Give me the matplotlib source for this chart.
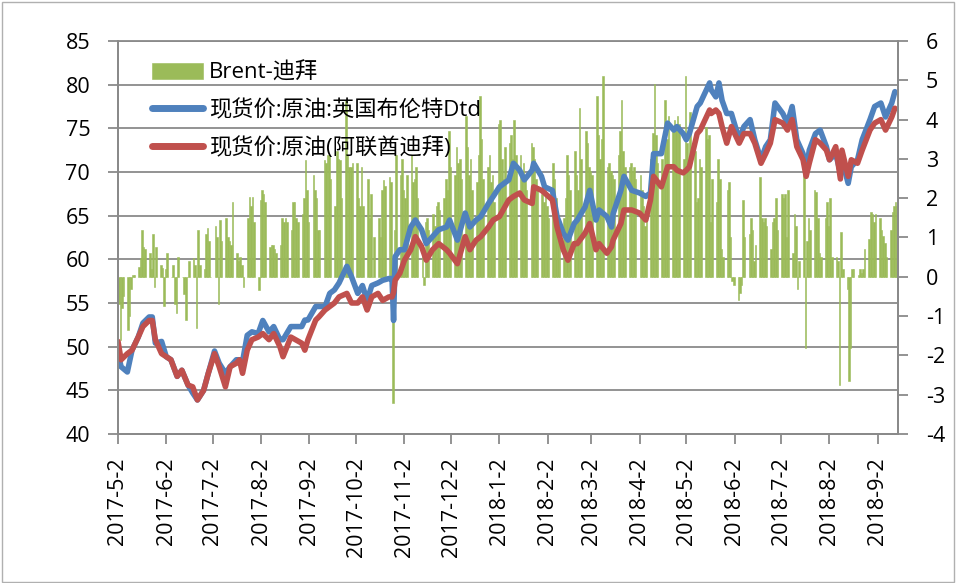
import matplotlib
matplotlib.use("Agg")
import matplotlib.pyplot as plt
import numpy as np
import pandas as pd
from matplotlib.patches import Rectangle

plt.rcParams['font.family'] = ['Open Sans', 'Noto Sans CJK SC', 'DejaVu Sans']
plt.rcParams['axes.unicode_minus'] = False

# Brent - Dubai spread, one value per business day (week rows, first row starts Tue 2017-5-2)
spread = [
    -0.7, -1.6, -0.8, -0.5,
    -1.35, -1.0, -0.3, 0.05, 0.05,
    0.26, 0.47, 1.2, 0.77, 0.7,
    0.6, 0.2, 1.1, -0.25, 0.77,
    0.3, 0.22, -0.75, 0.2, 0.6,
    0.0, 0.3, -0.7, -0.92, 0.5,
    0.0, -0.45, -1.1, 0.0, 0.4,
    0.47, 0.3, -1.3, 1.2, 0.3,
    0.2, 1.1, 1.24, 0.9, 0.0,
    1.3, 1.0, -0.7, 1.45, 0.9,
    1.5, 1.0, 0.9, 0.8, 1.9,
    0.6, 0.4, 0.5, 0.3, -0.25,
    1.5, 2.04, 1.8, 2.04, 1.4,
    -0.33, 1.96, 2.2, 2.1, 1.9,
    0.77, 0.8, 0.8, 0.7, 0.6,
    0.8, 1.5, 1.4, 1.5, 1.4,
    1.2, 1.9, 1.9, 1.5, 1.4,
    1.6, 2.0, 2.97, 2.2, 1.4,
    2.6, 2.2, 2.0, 1.2, 1.2,
    2.97, 2.9, 3.1, 3.1, 2.5,
    1.8, 3.2, 3.0, 2.97, 2.0,
    4.5, 3.1, 2.8, 2.8, 2.9,
    2.9, 2.0, 1.8, 2.8, 1.8,
    2.5, 1.5, 2.1, 0.0, 1.0,
    1.5, 1.0, 2.2, 2.47, 2.3,
    2.55, 2.4, -3.2, 1.2, 3.1,
    2.6, 3.0, 2.2, 2.0, 2.6,
    3.1, 2.4, 2.5, 2.8, 2.0,
    0.8, -0.2, 1.4, 1.5, 1.2,
    1.6, 1.3, 1.8, 1.9, 1.7,
    2.0, 2.5, 2.2, 3.7, 2.8,
    2.6, 3.3, 2.9, 3.0, 2.5,
    4.1, 3.3, 2.6, 3.0, 2.2,
    2.4, 3.1, 4.6, 3.5, 2.5,
    2.8, 3.1, 2.4, 2.6, 1.9,
    3.9, 4.0, 3.0, 2.5, 3.3,
    3.4, 3.6, 3.0, 4.0, 3.1,
    3.1, 2.6, 2.9, 2.5, 2.2,
    3.4, 3.3, 3.0, 2.5, 2.3,
    2.1, 1.9, 2.2, 1.8, 1.5,
    2.9, 2.5, 2.0, 1.5, 1.3,
    1.5, 2.0, 3.1, 2.6, 2.2,
    3.2, 2.6, 2.2, 4.3, 3.0,
    3.7, 3.4, 2.8, 2.7, 2.6,
    4.6, 3.6, 3.0, 3.5, 5.1,
    2.8, 2.9, 2.7, 2.6, 2.5,
    3.1, 3.7, 4.5, 3.2, 2.8,
    2.8, 2.9, 2.7, 2.8, 2.5,
    2.6, 2.2, 1.8, 1.3, 1.6,
    3.0, 3.65, 4.9, 3.6, 2.9,
    3.0, 2.5, 4.5, 3.5, 4.1,
    3.8, 4.0, 3.9, 4.1, 3.9,
    3.0, 5.1, 3.4, 2.8, 4.2,
    3.2, 1.9, 2.0, 3.0, 2.8,
    3.8, 3.5, 3.6, 1.4, 2.5,
    1.9, 3.0, 2.5, 0.7, 0.5,
    2.2, 2.4, 1.0, -0.1, -0.2,
    -0.6, -0.4, -0.2, 1.96, 1.0,
    1.1, 1.5, 1.2, 0.4, 0.8,
    2.55, 1.5, 1.4, 1.5, 1.3,
    0.7, 1.4, 1.5, 2.0, 1.2,
    2.1, 2.0, 2.1, 1.0, 2.2,
    0.6, 1.6, 1.3, -0.3, 0.4,
    2.7, -1.8, 0.9, 1.5, 1.2,
    2.2, 2.15, 1.5, 0.6, 0.5,
    1.5, 1.9, 1.3, 2.0, 0.5,
    0.5, 0.4, -2.75, 1.15, 0.2,
    -0.3, -2.65, -1.8, 0.2, 0.2,
    0.05, 0.2, 0.1, 0.2, 0.7,
    0.95, 1.65, 1.6, 1.4, 1.6,
    1.5, 1.2, 1.05, 0.85, 0.5,
    1.2, 1.65, 1.8, 1.9, 1.8,
]

# spot prices
price_dates = [
    '2017-05-02', '2017-05-04', '2017-05-08', '2017-05-11', '2017-05-15', '2017-05-18',
    '2017-05-22', '2017-05-24', '2017-05-26', '2017-05-30', '2017-06-02', '2017-06-05',
    '2017-06-09', '2017-06-12', '2017-06-16', '2017-06-19', '2017-06-22', '2017-06-26',
    '2017-06-29', '2017-07-03', '2017-07-06', '2017-07-10', '2017-07-13', '2017-07-17',
    '2017-07-19', '2017-07-21', '2017-07-24', '2017-07-27', '2017-07-31', '2017-08-03',
    '2017-08-07', '2017-08-10', '2017-08-14', '2017-08-16', '2017-08-21', '2017-08-24',
    '2017-08-28', '2017-08-30', '2017-09-01', '2017-09-06', '2017-09-08', '2017-09-12',
    '2017-09-15', '2017-09-18', '2017-09-21', '2017-09-26', '2017-09-29', '2017-10-03',
    '2017-10-06', '2017-10-09', '2017-10-12', '2017-10-16', '2017-10-19', '2017-10-23',
    '2017-10-25', '2017-10-26', '2017-10-27', '2017-10-30', '2017-11-02', '2017-11-06',
    '2017-11-09', '2017-11-13', '2017-11-16', '2017-11-20', '2017-11-24', '2017-11-29',
    '2017-12-01', '2017-12-06', '2017-12-11', '2017-12-14', '2017-12-18', '2017-12-21',
    '2017-12-26', '2017-12-29', '2018-01-02', '2018-01-08', '2018-01-11', '2018-01-15',
    '2018-01-18', '2018-01-23', '2018-01-24', '2018-01-29', '2018-01-31', '2018-02-05',
    '2018-02-08', '2018-02-12', '2018-02-15', '2018-02-19', '2018-02-21', '2018-02-26',
    '2018-03-01', '2018-03-05', '2018-03-07', '2018-03-12', '2018-03-15', '2018-03-16',
    '2018-03-21', '2018-03-23', '2018-03-28', '2018-04-02', '2018-04-06', '2018-04-09',
    '2018-04-11', '2018-04-16', '2018-04-20', '2018-04-24', '2018-04-26', '2018-04-30',
    '2018-05-02', '2018-05-04', '2018-05-09', '2018-05-11', '2018-05-17', '2018-05-18',
    '2018-05-21', '2018-05-23', '2018-05-25', '2018-05-28', '2018-05-31', '2018-06-05',
    '2018-06-08', '2018-06-12', '2018-06-15', '2018-06-19', '2018-06-22', '2018-06-25',
    '2018-06-28', '2018-07-03', '2018-07-06', '2018-07-09', '2018-07-12', '2018-07-16',
    '2018-07-18', '2018-07-20', '2018-07-24', '2018-07-27', '2018-07-31', '2018-08-02',
    '2018-08-06', '2018-08-09', '2018-08-10', '2018-08-14', '2018-08-16', '2018-08-20',
    '2018-08-23', '2018-08-28', '2018-08-31', '2018-09-04', '2018-09-07', '2018-09-11',
    '2018-09-13',
]
brent = [
    49.2, 47.7, 47.1, 49.6, 51.1, 52.7, 53.4, 53.4, 50.4, 50.6, 48.85, 48.5,
    46.6, 47.3, 45.6, 44.7, 43.9, 45.0, 46.95, 49.5, 48.1, 46.95, 47.7, 48.5,
    48.5, 48.3, 51.3, 51.7, 51.5, 53.0, 51.7, 52.3, 50.8, 50.8, 52.3, 52.3,
    52.3, 53.05, 53.05, 54.6, 54.6, 54.6, 56.1, 56.5, 57.3, 59.2, 58.0, 56.1,
    57.0, 55.3, 57.0, 57.3, 57.6, 57.8, 57.8, 53.0, 60.3, 61.1, 61.1, 63.7,
    64.5, 63.4, 61.8, 62.6, 63.4, 63.7, 64.5, 62.2, 65.3, 63.7, 64.5, 64.9,
    66.4, 67.2, 68.3, 69.1, 71.0, 70.2, 69.1, 70.2, 71.0, 69.5, 68.3, 67.9,
    64.9, 63.0, 62.2, 64.1, 64.5, 66.0, 67.9, 64.5, 65.65, 64.9, 63.7, 65.2,
    67.9, 69.5, 67.9, 67.6, 67.2, 67.6, 72.1, 72.1, 75.6, 74.8, 75.2, 74.4,
    73.7, 74.4, 77.5, 77.9, 80.2, 79.4, 78.6, 80.2, 78.2, 76.7, 76.7, 73.7,
    75.2, 76.0, 73.7, 71.4, 72.9, 73.7, 77.9, 76.7, 75.6, 77.5, 73.7, 72.1,
    69.9, 72.5, 74.4, 74.8, 72.9, 71.4, 72.1, 69.9, 71.4, 68.7, 70.6, 71.4,
    73.7, 76.0, 77.5, 77.9, 76.3, 77.9, 79.2,
]
dubai = [
    50.6, 48.5, 49.2, 49.6, 51.1, 52.3, 53.0, 53.0, 50.8, 49.2, 48.85, 48.5,
    46.6, 47.3, 45.6, 45.4, 43.9, 45.0, 46.95, 49.2, 47.7, 45.4, 47.7, 48.1,
    48.5, 46.95, 49.6, 50.8, 51.1, 51.5, 50.8, 51.5, 50.0, 48.85, 51.1, 50.8,
    50.4, 49.6, 50.8, 53.05, 53.4, 54.2, 54.6, 55.0, 55.7, 56.1, 55.0, 55.0,
    55.7, 54.2, 55.7, 56.1, 55.3, 55.7, 55.7, 56.2, 57.6, 58.4, 59.9, 61.1,
    62.6, 61.45, 59.9, 61.1, 61.8, 61.1, 60.7, 59.5, 62.6, 61.1, 62.2, 62.6,
    63.7, 64.5, 64.9, 66.8, 67.2, 67.6, 66.8, 66.4, 68.3, 67.9, 67.6, 66.8,
    63.7, 61.1, 59.9, 61.8, 61.8, 63.0, 64.1, 61.1, 61.8, 60.7, 61.45, 62.2,
    64.1, 65.65, 65.65, 65.3, 64.5, 66.8, 69.5, 68.3, 70.6, 70.6, 70.2, 69.9,
    70.2, 70.6, 74.4, 74.8, 77.1, 76.7, 77.1, 76.7, 75.2, 73.3, 75.2, 73.3,
    74.4, 74.4, 73.3, 71.0, 72.1, 73.3, 76.0, 75.6, 74.8, 76.0, 72.9, 71.4,
    69.5, 71.0, 73.7, 73.3, 72.5, 71.4, 72.9, 69.2, 72.5, 69.5, 71.4, 71.0,
    72.5, 74.8, 75.6, 76.0, 74.8, 76.3, 77.3,
]

labels = ['Brent-迪拜', '现货价:原油:英国布伦特Dtd', '现货价:原油(阿联酋迪拜)']
month_ticks = pd.date_range('2017-05-01', '2018-09-01', freq='MS') + pd.Timedelta(days=1)

green = '#9BBB59'
blue = '#4F81BD'
red = '#C0504D'
gray = '#8a8a8a'

bar_days = pd.bdate_range('2017-05-02', '2018-09-14')[:len(spread)]
px = pd.to_datetime(price_dates)

fig = plt.figure(figsize=(9.56, 5.83), dpi=100)
ax = fig.add_axes([118 / 956, 1 - 434 / 583, 780 / 956, 393 / 583])
ax2 = ax.twinx()   # bars, right axis
ax3 = ax.twinx()   # price lines, shares left scale

ax.set_ylim(40, 85)
ax.set_yticks(np.arange(40, 86, 5))
ax3.set_ylim(40, 85)
ax2.set_ylim(-4, 6)
ax2.set_yticks(np.arange(-4, 7, 1))

x0 = pd.Timestamp('2017-05-02')
ax.set_xlim(x0, x0 + pd.Timedelta(days=501))

ax.grid(axis='y', color=gray, linewidth=1.3)
ax.set_axisbelow(True)

bars = ax2.bar(bar_days, spread, width=1.0, align='edge', color=green,
               edgecolor=green, linewidth=0.4)
l1, = ax3.plot(px, brent, color=blue, linewidth=4.0, solid_joinstyle='round', solid_capstyle='round')
l2, = ax3.plot(px, dubai, color=red, linewidth=4.0, solid_joinstyle='round', solid_capstyle='round')

ax.set_xticks(month_ticks)
ax.set_xticklabels([f'{d.year}-{d.month}-{d.day}' for d in month_ticks],
                   rotation=90, ha='right', va='center', rotation_mode='anchor')

ax.tick_params(axis='x', length=7, color=gray, width=1.3, pad=10, labelsize=15.5)
ax.tick_params(axis='y', length=7, color=gray, width=1.3, pad=13, labelsize=15.5)
ax2.tick_params(axis='y', length=7, color=gray, width=1.3, pad=13, labelsize=15.5)
ax3.set_yticks([])
ax3.tick_params(axis='y', length=0, labelright=False)

for a in (ax, ax2, ax3):
    for s in a.spines.values():
        s.set_color(gray)
        s.set_linewidth(1.3)
    a.spines['top'].set_visible(False)
ax.spines['top'].set_visible(True)

leg = ax3.legend([bars, l1, l2], labels, loc='upper left', bbox_to_anchor=(0.044, 0.945),
                 frameon=False, fontsize=16, handlelength=2.3, handletextpad=0.25,
                 labelspacing=0.72, borderpad=0, borderaxespad=0)
for h in leg.legend_handles[1:]:
    h.set_linewidth(5)

fig.patches.append(Rectangle((0.002, 0.002), 0.996, 0.995, transform=fig.transFigure,
                             fill=False, edgecolor='#b0b0b0', linewidth=1))

fig.savefig('out.png', dpi=100)
